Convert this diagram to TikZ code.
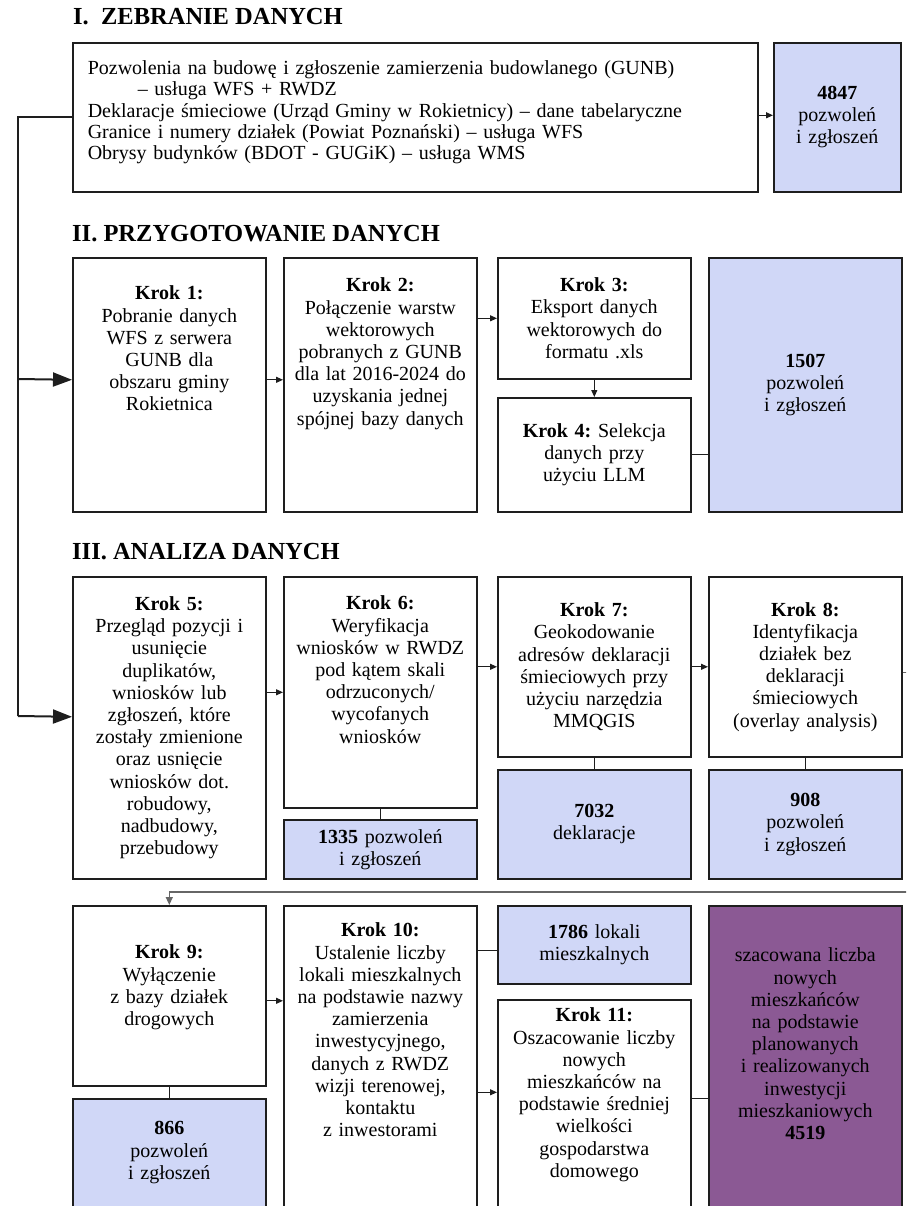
\documentclass[tikz,border=0pt]{standalone}
\usepackage{fontspec}
\setmainfont{Liberation Serif}
\usetikzlibrary{arrows.meta}

\definecolor{boxblue}{RGB}{208,215,247}
\definecolor{boxpurple}{RGB}{139,89,148}
\definecolor{edge}{RGB}{30,30,30}

\begin{document}
\frenchspacing
\begin{tikzpicture}[x=1pt,y=-1pt,
    every node/.style={font=\fontsize{20}{22.2}\selectfont},
    head/.style={anchor=base west, inner sep=0pt, font=\fontsize{24.5}{28}\selectfont\bfseries},
    stepbox/.style={draw=edge, line width=1.6pt, fill=white, anchor=north west,
      inner xsep=4pt, inner ysep=0pt, minimum width=193pt, text width=185pt, align=center},
    numbox/.style={stepbox, fill=boxblue},
    link/.style={draw=edge, line width=1.1pt},
    arr/.style={link, -{Triangle[length=7pt,width=6pt]}},
    bus/.style={draw=edge, line width=2pt},
    bigarr/.style={-{Triangle[length=19pt,width=14pt]}},
    back/.style={draw=black!60, line width=1.3pt, -{Triangle[length=8pt,width=7pt]}}]
  \useasboundingbox (0,0) rectangle (906,1206);
  \clip (0,0) rectangle (906,1206);

  \node[head] (h1) at (73,25) {I.\ \ ZEBRANIE DANYCH};
  \node[head] (h2) at (72,241) {II. PRZYGOTOWANIE DANYCH};
  \node[head] (h3) at (72,559) {III. ANALIZA DANYCH};

  \node[stepbox, text width=655pt, inner xsep=15pt, align=left, text height=32pt, text depth=117pt,
    font=\fontsize{20}{21.2}\selectfont] (src) at (72,42)
    {Pozwolenia na budowę i zgłoszenie zamierzenia budowlanego (GUNB)\\
     \hspace*{50pt}– usługa WFS + RWDZ\\
     Deklaracje śmieciowe (Urząd Gminy w Rokietnicy) – dane tabelaryczne\\
     Granice i numery działek (Powiat Poznański) – usługa WFS\\
     Obrysy budynków (BDOT - GUGiK) – usługa WMS};
  \node[numbox, minimum width=127pt, text width=119pt, minimum height=149pt] (b1) at (773,42)
    {\textbf{4847}\\pozwoleń\\i zgłoszeń};

  \node[stepbox, text height=42pt, text depth=212pt] (k1) at (72,257)
    {\textbf{Krok 1:}\\Pobranie danych\\WFS z serwera\\GUNB dla\\obszaru gminy\\Rokietnica};
  \node[stepbox, text height=34pt, text depth=220pt] (k2) at (283,257)
    {\textbf{Krok 2:}\\Połączenie warstw\\wektorowych\\pobranych z GUNB\\dla lat 2016-2024 do\\uzyskania jednej\\spójnej bazy danych};
  \node[stepbox, minimum height=121pt] (k3) at (497,257)
    {\textbf{Krok 3:}\\Eksport danych\\wektorowych do\\formatu .xls};
  \node[stepbox, minimum height=114pt] (k4) at (497,397)
    {\textbf{Krok 4:} Selekcja\\danych przy\\użyciu LLM};
  \node[numbox, minimum height=254pt] (b2) at (708,257)
    {\textbf{1507}\\pozwoleń\\i zgłoszeń};

  \node[stepbox, minimum height=302pt] (k5) at (72,576)
    {\textbf{Krok 5:}\\Przegląd pozycji i\\usunięcie\\duplikatów,\\wniosków lub\\zgłoszeń, które\\zostały zmienione\\oraz usnięcie\\wniosków dot.\\robudowy,\\nadbudowy,\\przebudowy};
  \node[stepbox, text height=33pt, text depth=198pt] (k6) at (283,576)
    {\textbf{Krok 6:}\\Weryfikacja\\wniosków w RWDZ\\pod kątem skali\\odrzuconych/\\wycofanych\\wniosków};
  \node[numbox, minimum height=59pt] (b6) at (283,819)
    {\textbf{1335} pozwoleń\\i zgłoszeń};
  \node[stepbox, minimum height=180pt] (k7) at (497,576)
    {\textbf{Krok 7:}\\Geokodowanie\\adresów deklaracji\\śmieciowych przy\\użyciu narzędzia\\MMQGIS};
  \node[numbox, minimum height=109pt] (b7) at (497,769)
    {\textbf{7032}\\deklaracje};
  \node[stepbox, minimum height=180pt] (k8) at (708,576)
    {\textbf{Krok 8:}\\Identyfikacja\\działek bez\\deklaracji\\śmieciowych\\(overlay analysis)};
  \node[numbox, minimum height=109pt] (b8) at (708,769)
    {\textbf{908}\\pozwoleń\\i zgłoszeń};

  \node[stepbox, text height=53pt, text depth=127pt] (k9) at (72,905)
    {\textbf{Krok 9:}\\Wyłączenie\\z bazy działek\\drogowych};
  \node[numbox, text height=36pt, text depth=106pt] (b9) at (72,1098)
    {\textbf{866}\\pozwoleń\\i zgłoszeń};
  \node[stepbox, text height=31pt, text depth=304pt] (k10) at (283,905)
    {\textbf{Krok 10:}\\Ustalenie liczby\\lokali mieszkalnych\\na podstawie nazwy\\zamierzenia\\inwestycyjnego,\\danych z RWDZ\\wizji terenowej,\\kontaktu\\z inwestorami};
  \node[numbox, minimum height=78pt] (b10) at (497,905)
    {\textbf{1786} lokali\\mieszkalnych};
  \node[stepbox, text height=22pt, text depth=219pt] (k11) at (497,999)
    {\textbf{Krok 11:}\\Oszacowanie liczby\\nowych\\mieszkańców na\\podstawie średniej\\wielkości\\gospodarstwa\\domowego};
  \node[stepbox, fill=boxpurple, text height=56pt, text depth=279pt] (res) at (708,905)
    {szacowana liczba\\nowych\\mieszkańców\\na podstawie\\planowanych\\i realizowanych\\inwestycji\\mieszkaniowych\\\textbf{4519}};

  \coordinate (j1) at (18,379);
  \coordinate (j2) at (18,716);
  \coordinate (turn) at (908,892);
  \path ([yshift=-6pt]b10.west) coordinate (b10in);
  \path ([yshift=28pt]k11.west) coordinate (k11in);
  \path ([yshift=-25pt]res.west) coordinate (resin);

  \draw[bus] (src.west) -| (j2);
  \draw[bus, bigarr] (j1) to ([yshift=5pt]k1.west);
  \draw[bus, bigarr] (j2) to ([yshift=11pt]k5.west);

  \draw[arr] ([yshift=2pt]src.east) to ([yshift=2pt]b1.west);
  \draw[arr] ([yshift=5pt]k1.east) to ([yshift=5pt]k2.west);
  \draw[arr] (k2.east |- k3.west) to (k3.west);
  \draw[arr] (k3.south) to (k4.north);
  \draw[link] (k4.east) to (k4.east -| b2.west);
  \draw[arr] (k6.west -| k5.east) to (k6.west);
  \draw[arr] (k7.west -| k6.east) to (k7.west);
  \draw[arr] (k7.east) to (k8.west);
  \foreach \a/\b in {k6/b6,k7/b7,k8/b8,k9/b9}
    \draw[link] (\a.south) to (\b.north);
  \draw[back] ([yshift=-6pt]k8.east) -| (turn) -| (k9.north);
  \draw[arr] ([yshift=-5pt]k9.east) to ([yshift=-5pt]k10.west |- k9.east);
  \draw[link] (b10in -| k10.east) to (b10in);
  \draw[arr] (k11in -| k10.east) to (k11in);
  \draw[link] (resin -| k11.east) to (resin);
\end{tikzpicture}
\end{document}
